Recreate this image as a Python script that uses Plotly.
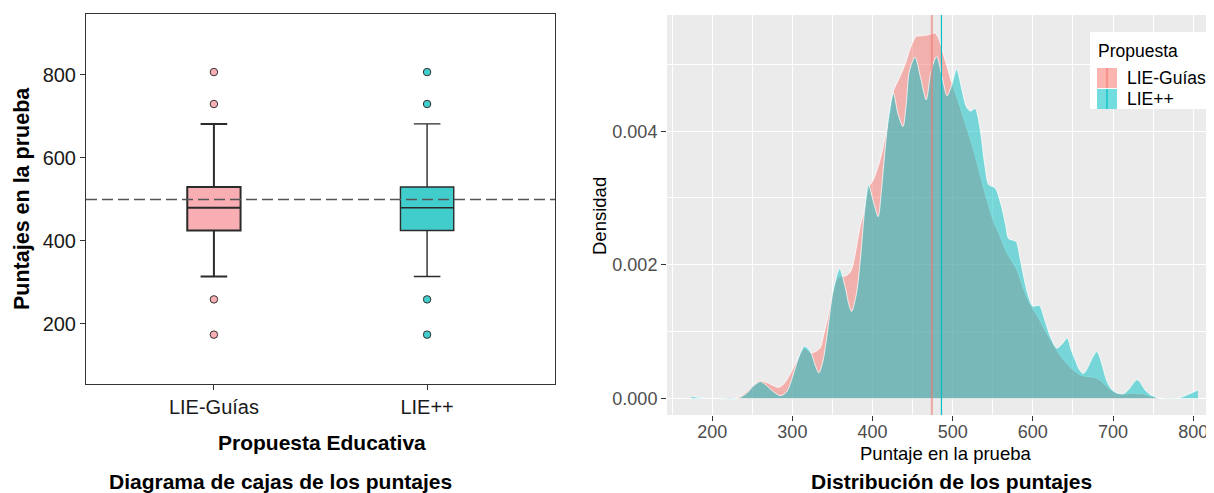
import plotly.graph_objects as go

# ---------------- data ----------------
categories = ["LIE-Guías", "LIE++"]
box_q1 = [425, 425]
box_median = [480, 480]
box_q3 = [530, 530]
box_lower = [314, 314]
box_upper = [682, 682]
outliers_guias = [807, 730, 259, 174]
outliers_lie = [807, 730, 259, 174]
reference_score = 500

group_means = [474, 486]  # LIE-Guías, LIE++

dens_guias_x = [229, 236, 243, 251, 259, 265, 272, 278, 283, 288, 293, 298, 303, 309, 315,
                320, 324, 329, 335, 339, 343, 347, 351, 356, 360, 366, 370, 374, 380, 385,
                389, 395, 401, 405, 409, 413, 418, 422, 426, 432, 438, 442, 447, 451, 455,
                462, 468, 474, 478, 482, 485, 489, 493, 499, 504, 509, 517, 526, 534, 542,
                551, 559, 567, 574, 580, 588, 596, 605, 613, 621, 630, 638, 646, 653, 659,
                666, 672, 680, 686, 692, 698, 705, 713, 719, 725, 732, 738, 744, 750, 757]
dens_guias_y = [0, 0.00004, 0.0001, 0.00019, 0.000265, 0.00025, 0.000215, 0.00018, 0.000165,
                0.0002, 0.000275, 0.00038, 0.0005, 0.00065, 0.00075, 0.00071, 0.00068, 0.0007,
                0.00076, 0.00095, 0.00115, 0.0014, 0.00162, 0.0018, 0.00183, 0.00183, 0.00186,
                0.00193, 0.00227, 0.0026, 0.00278, 0.00316, 0.00327, 0.0034, 0.00355, 0.00375,
                0.00405, 0.0043, 0.0046, 0.00476, 0.00492, 0.00505, 0.00524, 0.00535, 0.00542,
                0.00543, 0.00544, 0.00546, 0.00547, 0.0054, 0.0053, 0.00513, 0.00497, 0.00472,
                0.00455, 0.00437, 0.00407, 0.00372, 0.00336, 0.003, 0.00265, 0.00243, 0.00219,
                0.00205, 0.00193, 0.00165, 0.00142, 0.00125, 0.00107, 0.0009, 0.00072, 0.00058,
                0.00047, 0.0004, 0.00035, 0.00033, 0.00032, 0.0003, 0.00025, 0.00018, 0.00012,
                0.000075, 0.000065, 0.00007, 0.000075, 0.00007, 0.000065, 0.00004, 0.000025, 0]

dens_lie_x = [174, 182, 190, 198, 232, 243, 251, 260, 267, 274, 285, 293, 303, 309, 315, 320,
              324, 329, 333, 338, 343, 351, 359, 366, 371, 374, 380, 385, 390, 395, 401, 407,
              411, 416, 421, 426, 432, 438, 442, 446, 453, 460, 467, 473, 480, 487, 493, 499,
              505, 511, 517, 522, 528, 534, 540, 545, 553, 561, 566, 570, 579, 584, 589, 594,
              600, 608, 615, 622, 630, 637, 643, 648, 653, 658, 663, 668, 674, 680, 686, 692,
              698, 705, 713, 719, 725, 730, 735, 740, 746, 752, 759, 781, 794, 806]
dens_lie_y = [0.00003, 0.000015, 0.000003, 0, 0, 0.000075, 0.00018, 0.00025, 0.0002, 0.00012,
              0.00004, 0.0001, 0.00043, 0.00065, 0.00078, 0.00074, 0.00066, 0.00048, 0.00038,
              0.00055, 0.00092, 0.00162, 0.00194, 0.00166, 0.00138, 0.0013, 0.00157, 0.0021,
              0.0028, 0.0032, 0.00295, 0.00272, 0.0031, 0.00377, 0.0043, 0.00457, 0.00425,
              0.00407, 0.0044, 0.0049, 0.00511, 0.0048, 0.00447, 0.0049, 0.00512, 0.0048,
              0.00453, 0.0047, 0.00493, 0.00465, 0.00437, 0.0043, 0.00434, 0.00405, 0.0035,
              0.0032, 0.00315, 0.00287, 0.0026, 0.00239, 0.00235, 0.0021, 0.0018, 0.00155,
              0.00138, 0.00139, 0.00117, 0.00092, 0.00075, 0.00082, 0.0009, 0.00072, 0.00057,
              0.00043, 0.00037, 0.00045, 0.0006, 0.0007, 0.00052, 0.00027, 0.00014, 0.00008,
              0.00007, 0.000125, 0.00022, 0.00028, 0.00022, 0.000125, 0.00006, 0.000025, 0, 0,
              0.00006, 0.000125]

y_ticks_left = [200, 400, 600, 800]
x_ticks_right = [200, 300, 400, 500, 600, 700, 800]
y_ticks_right = [0.0, 0.002, 0.004]
y_ticktext_right = ["0.000", "0.002", "0.004"]

# ---------------- styling ----------------
PAGE_W, PAGE_H = 1214, 493
OFF = 8  # default page body margin
W, H = PAGE_W - OFF, PAGE_H - OFF
FONT = "Liberation Sans, Arial, sans-serif"
box_fill = ["#F9AEB3", "#42CDCD"]
box_lw = [2.0, 1.4]
dens_fill = ["rgba(248,118,109,0.5)", "rgba(0,191,196,0.5)"]
mean_colors = ["rgba(240,120,112,0.55)", "#00BFC4"]
mean_widths = [2.2, 1.2]


def px(xp):
    return (xp - OFF) / W


def py(yp):
    return 1 - (yp - OFF) / H


fig = go.Figure()

# --- boxplots ---
outliers = [outliers_guias, outliers_lie]
for i, cat in enumerate(categories):
    fig.add_trace(go.Box(
        x=[cat], q1=[box_q1[i]], median=[box_median[i]], q3=[box_q3[i]],
        lowerfence=[box_lower[i]], upperfence=[box_upper[i]],
        boxpoints=False, width=0.25, whiskerwidth=0.5,
        fillcolor=box_fill[i], line=dict(color="#2b2b2b", width=box_lw[i]),
        xaxis="x", yaxis="y", showlegend=False, hoverinfo="skip"))
    fig.add_trace(go.Scatter(
        x=[cat] * len(outliers[i]), y=outliers[i], mode="markers",
        marker=dict(size=7.5, color=box_fill[i], line=dict(color="#333333", width=1)),
        xaxis="x", yaxis="y", showlegend=False, hoverinfo="skip"))

# --- densities ---
dens = [(dens_guias_x, dens_guias_y), (dens_lie_x, dens_lie_y)]
for i, (dx, dy) in enumerate(dens):
    fig.add_trace(go.Scatter(
        x=dx, y=dy, mode="lines", fill="tozeroy", fillcolor=dens_fill[i],
        line=dict(color="rgba(255,255,255,0.85)", width=0.9, shape="spline", smoothing=0.8),
        xaxis="x2", yaxis="y2", name=categories[i], showlegend=False, hoverinfo="skip"))

shapes = []
# gray panel background for right plot
shapes.append(dict(type="rect", xref="x2 domain", yref="y2 domain", x0=0, x1=1, y0=0, y1=1,
                   fillcolor="#EBEBEB", line=dict(width=0), layer="below"))
# reference dashed line in boxplot
shapes.append(dict(type="line", xref="x domain", yref="y", x0=0, x1=1,
                   y0=reference_score, y1=reference_score,
                   line=dict(color="#555555", width=1.5, dash="11px,5px"), layer="above"))
# mean lines
for i, m in enumerate(group_means):
    shapes.append(dict(type="line", xref="x2", yref="y2 domain", x0=m, x1=m, y0=0, y1=1,
                       line=dict(color=mean_colors[i], width=mean_widths[i]), layer="above"))

# manual legend (ggplot-style)
LG_X = 1090
shapes.append(dict(type="rect", xref="paper", yref="paper", x0=px(LG_X), x1=1.0,
                   y0=py(109), y1=py(32), fillcolor="white", line=dict(width=0), layer="above"))
key_y = [(68, 88), (89, 109)]
key_fill = ["rgba(248,118,109,0.55)", "rgba(0,191,196,0.55)"]
for i in range(2):
    shapes.append(dict(type="rect", xref="paper", yref="paper", x0=px(LG_X + 7),
                       x1=px(LG_X + 27), y0=py(key_y[i][1]), y1=py(key_y[i][0]),
                       fillcolor=key_fill[i], line=dict(width=0), layer="above"))
    shapes.append(dict(type="line", xref="paper", yref="paper", x0=px(LG_X + 17),
                       x1=px(LG_X + 17), y0=py(key_y[i][1]), y1=py(key_y[i][0]),
                       line=dict(color=mean_colors[i], width=mean_widths[i]), layer="above"))

annotations = [
    dict(text="<b>Puntajes en la prueba</b>", x=px(22), y=py(199), xref="paper", yref="paper",
         textangle=-90, showarrow=False, font=dict(size=21.5, color="black", family=FONT),
         xanchor="center", yanchor="middle"),
    dict(text="<b>Propuesta Educativa</b>", x=px(322), y=py(442), xref="paper", yref="paper",
         showarrow=False, font=dict(size=21, color="black", family=FONT),
         xanchor="center", yanchor="middle"),
    dict(text="<b>Diagrama de cajas de los puntajes</b>", x=px(280), y=py(481), xref="paper",
         yref="paper", showarrow=False, font=dict(size=21, color="black", family=FONT),
         xanchor="center", yanchor="middle"),
    dict(text="Densidad", x=px(599), y=py(216), xref="paper", yref="paper", textangle=-90,
         showarrow=False, font=dict(size=18.5, color="black", family=FONT),
         xanchor="center", yanchor="middle"),
    dict(text="Puntaje en la prueba", x=px(945), y=py(453), xref="paper", yref="paper",
         showarrow=False, font=dict(size=18.5, color="black", family=FONT),
         xanchor="center", yanchor="middle"),
    dict(text="<b>Distribución de los puntajes</b>", x=px(951), y=py(481), xref="paper",
         yref="paper", showarrow=False, font=dict(size=21, color="black", family=FONT),
         xanchor="center", yanchor="middle"),
    dict(text="Propuesta", x=px(LG_X + 6), y=py(51), xref="paper", yref="paper",
         showarrow=False, font=dict(size=17.5, color="black", family=FONT),
         xanchor="left", yanchor="middle"),
]
for i, cat in enumerate(categories):
    annotations.append(dict(text=cat, x=px(LG_X + 35), y=py((key_y[i][0] + key_y[i][1]) / 2),
                            xref="paper", yref="paper", showarrow=False,
                            font=dict(size=17.5, color="black", family=FONT),
                            xanchor="left", yanchor="middle"))

fig.update_layout(
    width=W, height=H, margin=dict(l=0, r=0, t=0, b=0),
    paper_bgcolor="white", plot_bgcolor="rgba(0,0,0,0)",
    font=dict(family=FONT), boxmode="overlay", showlegend=False,
    shapes=shapes, annotations=annotations,
    xaxis=dict(domain=[px(86), px(555)], anchor="y", type="category",
               categoryorder="array", categoryarray=categories, range=[-0.6, 1.6],
               showline=True, mirror=True, linecolor="#333333", linewidth=1,
               ticks="outside", ticklen=5, tickcolor="#333333",
               tickfont=dict(size=20, color="#1a1a1a"), showgrid=False, zeroline=False),
    yaxis=dict(domain=[py(384), py(14)], anchor="x", range=[55, 947],
               tickvals=y_ticks_left, showline=True, mirror=True, linecolor="#333333",
               linewidth=1, ticks="outside", ticklen=5, tickcolor="#333333",
               tickfont=dict(size=20, color="#1a1a1a"), showgrid=False, zeroline=False),
    xaxis2=dict(domain=[px(667), 1.0], anchor="y2", range=[143.6, 826],
                tickvals=x_ticks_right, showgrid=True, gridcolor="white", gridwidth=1.2,
                minor=dict(dtick=50, tick0=0, showgrid=True, gridcolor="white", gridwidth=0.5),
                zeroline=False, showline=False, ticks="outside", ticklen=5,
                ticklabelstandoff=-5,
                tickcolor="#333333", tickfont=dict(size=18, color="#4D4D4D")),
    yaxis2=dict(domain=[py(415), py(15)], anchor="x2", range=[-0.00025, 0.00574],
                tickvals=y_ticks_right, ticktext=y_ticktext_right, showgrid=True,
                gridcolor="white", gridwidth=1.2,
                minor=dict(dtick=0.001, tick0=0, showgrid=True, gridcolor="white", gridwidth=0.5),
                zeroline=False, showline=False, ticks="outside", ticklen=5,
                tickcolor="#333333", tickfont=dict(size=18, color="#4D4D4D")),
)

fig.write_html("out.html")
